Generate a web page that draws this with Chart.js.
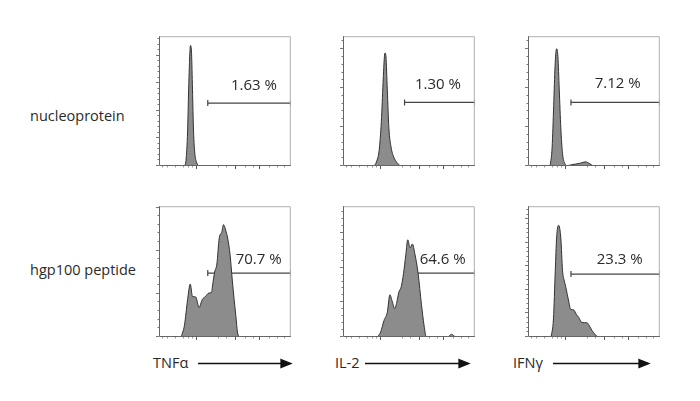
<!DOCTYPE html>
<html>
<head>
<meta charset="utf-8">
<script src="https://cdn.jsdelivr.net/npm/chart.js@4.4.1/dist/chart.umd.min.js"></script>
<style>
  body { margin: 0; background: #fff; }
  #wrap { position: relative; width: 700px; height: 401px; font-family: "Open Sans", sans-serif; color: #2a2a2a; }
  #wrap canvas { position: absolute; }
  .lbl { position: absolute; font-size: 14.5px; line-height: 18px; white-space: nowrap; }
</style>
</head>
<body>
<div id="wrap">
  <div class="lbl" style="left:30px; top:107px;">nucleoprotein</div>
  <div class="lbl" style="left:30px; top:261px;">hgp100 peptide</div>
  <div class="lbl" style="left:153px; top:354px;">TNF&alpha;</div>
  <div class="lbl" style="left:335px; top:354px;">IL-2</div>
  <div class="lbl" style="left:513px; top:354px;">IFN&gamma;</div>
  <svg width="700" height="401" style="position:absolute;left:0;top:0">
    <g stroke="#111" stroke-width="1.3" fill="#111">
      <line x1="198" y1="363.5" x2="283" y2="363.5"/><polygon points="281,359.5 291,363.5 281,367.5"/>
      <line x1="365" y1="363.5" x2="461" y2="363.5"/><polygon points="459,359.5 469,363.5 459,367.5"/>
      <line x1="553" y1="363.5" x2="641" y2="363.5"/><polygon points="639,359.5 649,363.5 639,367.5"/>
    </g>
  </svg>
</div>
<script>
// Histogram values (x = fluorescence channel 0-100, y = % of max)
var xNucTNF = [19.3, 20.5, 21.7, 22.5, 23.5, 23.9, 24.7, 25.4, 26.2, 27.2, 28.4, 29.9];
var yNucTNF = [0, 4.5, 26.9, 59.2, 89, 92.8, 86.6, 59.2, 26.9, 9.5, 3.2, 0];

var xNucIL2 = [23.7, 25.4, 27.4, 29.1, 30.4, 31.4, 31.9, 32.6, 33.6, 34.8, 36.5, 38.5, 41, 43.5];
var yNucIL2 = [0, 3.2, 11.9, 34.3, 64.2, 84.1, 87.1, 84.1, 59.2, 29.4, 14.4, 6.9, 2.5, 0];

var xNucIFN = [16.8, 18.3, 19.5, 20.5, 21.7, 22.7, 23.7, 24.9, 26.2, 27.9, 29.9, 32.3, 36, 39.8, 43.5, 46.4, 49.6];
var yNucIFN = [0, 14.4, 46.8, 76.6, 90.3, 84.1, 59.2, 29.4, 9.5, 2, 0.3, 0.8, 1.5, 2.2, 3.2, 2, 0];

var xPepTNF = [16.8, 19.3, 21.7, 23.7, 25.4, 27.9, 30.4, 32.8, 35.3, 37.8, 39.8, 40.7, 42.2, 43.9, 45.7, 47.7, 48.9, 50.6, 52.1, 53.9, 55.6, 57, 58.3, 59.5, 60.7];
var yPepTNF = [0, 8.9, 28.6, 40.5, 31, 30.6, 22.5, 28.6, 31, 33.6, 34, 39.8, 49.6, 55.8, 75.6, 80.5, 85.9, 81.7, 75.6, 63.2, 43.5, 28.6, 16.3, 3.9, 0];

var xPepIL2 = [26.2, 28.6, 31.1, 33.6, 35.6, 37.3, 39.3, 41, 42.2, 44.2, 45.9, 47.7, 49.1, 50.9, 52.6, 54.6, 57, 59.5, 61.5, 63.2, 79.3, 82.2, 85.4];
var yPepIL2 = [0, 3.9, 12.6, 18.8, 32.3, 27.4, 21.7, 27.4, 33.6, 38.5, 48.4, 63.2, 74.3, 68.1, 71.1, 63.2, 48.4, 25, 8.9, 0, 0, 2, 0];

var xPepIFN = [17.5, 19.3, 20.7, 21.7, 23.2, 24.9, 26.2, 27.4, 28.6, 31.1, 32.3, 34.8, 36.5, 38.5, 40.5, 43, 44.7, 46.4, 48.4, 50.9, 52.8];
var yPepIFN = [0, 13.8, 50.9, 75.6, 85.4, 75.6, 50.9, 43.5, 38.5, 26.2, 21.2, 20.7, 17.5, 15, 11.4, 10.9, 10.9, 8.9, 5.2, 2, 0];

// Gates: start channel (ends at 100) and percentages
var gateStart = [37, 46.7, 32.6, 37, 46.7, 32.6];
var gatePct = ['1.63 %', '1.30 %', '7.12 %', '70.7 %', '64.6 %', '23.3 %'];

// logicle-like bottom tick channels
var xTickMinor = [2, 5.7, 11.9, 18, 21.7, 25.4, 44.4, 50.6, 64.9, 71, 83.5, 89.6, 94.6];
var xTickMajor = [28.4, 57.5, 76];

var seriesX = [xNucTNF, xNucIL2, xNucIFN, xPepTNF, xPepIL2, xPepIFN];
var seriesY = [yNucTNF, yNucIL2, yNucIFN, yPepTNF, yPepIL2, yPepIFN];

// panel boxes on the page
var panels = [
    {left: 159, top: 32, w: 135, h: 134, yStep: 21.2, gateY: 48.5, tx: 72, ty: 62},
    {left: 343, top: 32, w: 135, h: 134, yStep: 30, gateY: 49, tx: 72, ty: 62.5},
    {left: 528, top: 32, w: 135, h: 134, yStep: 30, gateY: 49, tx: 68, ty: 63},
    {left: 159, top: 202, w: 135, h: 135, yStep: 33, gateY: 48.9, tx: 75.6, ty: 59},
    {left: 343, top: 202, w: 135, h: 135, yStep: 26.5, gateY: 48.9, tx: 75.6, ty: 59},
    {left: 528, top: 202, w: 135, h: 135, yStep: 18, gateY: 48.1, tx: 69.6, ty: 59}
];

var PAD_L = 6, PAD_B = 6, PAD_T = 1, PAD_R = 2;

var framePlugin = {
    id: 'frame',
    afterDraw: function(chart) {
        var ctx = chart.ctx, a = chart.chartArea;
        var xs = chart.scales.x, ys = chart.scales.y;
        var o = chart.options.plugins.frame;
        var step = o.yStep;
        ctx.save();
        ctx.lineWidth = 1;
        // top / right
        ctx.strokeStyle = '#b0b0b0';
        ctx.beginPath();
        ctx.moveTo(a.left, a.top + 0.5); ctx.lineTo(a.right - 0.5, a.top + 0.5); ctx.lineTo(a.right - 0.5, a.bottom);
        ctx.stroke();
        // left / bottom
        ctx.strokeStyle = '#666';
        ctx.beginPath();
        ctx.moveTo(a.left + 0.5, a.top); ctx.lineTo(a.left + 0.5, a.bottom - 0.5); ctx.lineTo(a.right, a.bottom - 0.5);
        ctx.stroke();
        // y ticks
        ctx.strokeStyle = '#777';
        ctx.beginPath();
        for (var i = 0; i * step / 5 <= 100; i++) {
            var y = Math.round(ys.getPixelForValue(i * step / 5)) - 0.5;
            var len = (i % 5 == 0) ? 3 : 1.5;
            ctx.moveTo(a.left, y); ctx.lineTo(a.left - len, y);
        }
        ctx.stroke();
        // x ticks
        ctx.strokeStyle = '#999';
        ctx.beginPath();
        xTickMinor.forEach(function(v) {
            var x = Math.round(xs.getPixelForValue(v)) + 0.5;
            ctx.moveTo(x, a.bottom); ctx.lineTo(x, a.bottom + 1.5);
        });
        ctx.stroke();
        ctx.strokeStyle = '#555';
        ctx.beginPath();
        xTickMajor.forEach(function(v) {
            var x = Math.round(xs.getPixelForValue(v)) + 0.5;
            ctx.moveTo(x, a.bottom); ctx.lineTo(x, a.bottom + 3);
        });
        ctx.stroke();
        // percentage label
        ctx.fillStyle = '#2a2a2a';
        ctx.font = '15px "Open Sans", sans-serif';
        ctx.textAlign = 'center';
        ctx.textBaseline = 'middle';
        ctx.fillText(o.text, xs.getPixelForValue(o.tx), ys.getPixelForValue(o.ty));
        ctx.restore();
    }
};

var wrap = document.getElementById('wrap');
var charts = [];

panels.forEach(function(p, k) {
    var cv = document.createElement('canvas');
    cv.width = p.w + PAD_L + PAD_R;
    cv.height = p.h + PAD_T + PAD_B;
    cv.style.left = (p.left - PAD_L) + 'px';
    cv.style.top = (p.top - PAD_T) + 'px';
    cv.style.width = cv.width + 'px';
    cv.style.height = cv.height + 'px';
    wrap.appendChild(cv);

    var hist = seriesX[k].map(function(x, i) { return {x: x, y: seriesY[k][i]}; });

    charts[k] = new Chart(cv.getContext('2d'), {
        type: 'line',
        data: {
            datasets: [{
                data: hist,
                fill: 'origin',
                backgroundColor: '#8c8c8c',
                borderColor: '#333',
                borderWidth: 1,
                pointRadius: 0,
                cubicInterpolationMode: 'monotone'
            }, {
                data: [{x: gateStart[k], y: p.gateY}, {x: 100, y: p.gateY}],
                fill: false,
                borderColor: '#444',
                borderWidth: 1.2,
                pointStyle: 'line',
                rotation: 90,
                pointRadius: 3,
                pointBorderColor: '#444',
                pointBorderWidth: 1.2
            }]
        },
        options: {
            responsive: false,
            animation: false,
            devicePixelRatio: 1,
            layout: { padding: {left: PAD_L, right: PAD_R, top: PAD_T, bottom: PAD_B} },
            scales: {
                x: { type: 'linear', min: 0, max: 100, display: false },
                y: { type: 'linear', min: 0, max: 100, display: false }
            },
            plugins: {
                legend: { display: false },
                tooltip: { enabled: false },
                frame: { yStep: p.yStep, text: gatePct[k], tx: p.tx, ty: p.ty }
            }
        },
        plugins: [framePlugin]
    });
});
</script>
</body>
</html>
